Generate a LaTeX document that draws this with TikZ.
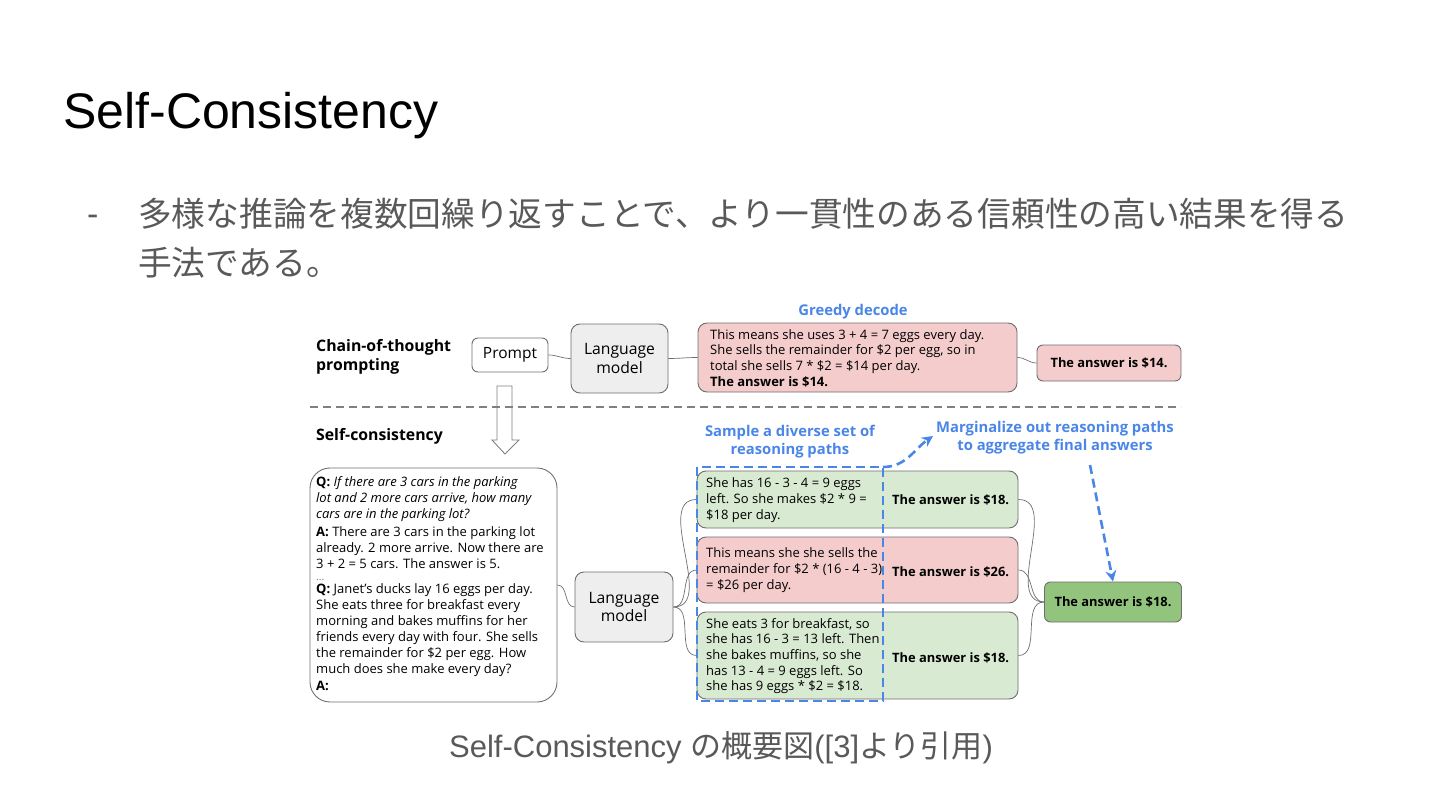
\documentclass[tikz,border=0pt]{standalone}
\usepackage{fontspec}
\usepackage{xcolor}
\setmainfont{Liberation Sans}
\newfontfamily\jpfont{Noto Sans CJK JP}
\newfontfamily\dgfont{Open Sans}
\usetikzlibrary{arrows.meta,positioning}

\definecolor{edgegray}{HTML}{6E6E6E}
\definecolor{lmgray}{HTML}{EEEEEE}
\definecolor{pathgreen}{HTML}{D9EAD3}
\definecolor{pathred}{HTML}{F4CCCC}
\definecolor{finalgreen}{HTML}{93C47D}
\definecolor{labelblue}{HTML}{4A86E8}
\definecolor{bodygray}{HTML}{595959}

\tikzset{
  box/.style={draw=edgegray, line width=0.9pt, rounded corners=6pt},
  lmbox/.style={box, fill=lmgray, align=center, rounded corners=9pt,
    font=\dgfont\fontsize{15.7}{18.5}\selectfont},
  ansbox/.style={box, font=\dgfont\bfseries\fontsize{12.9}{15}\selectfont},
  boxtext/.style={anchor=west, align=left, inner sep=0pt,
    font=\dgfont\fontsize{13}{15.7}\selectfont},
  anstext/.style={anchor=west, inner sep=0pt,
    font=\dgfont\bfseries\fontsize{12.9}{15}\selectfont},
  rowlabel/.style={anchor=west, align=left, inner sep=0pt,
    font=\dgfont\bfseries\fontsize{15.8}{19}\selectfont},
  bluelabel/.style={align=center, inner sep=0pt, text=labelblue,
    font=\dgfont\bfseries\fontsize{14.8}{18}\selectfont},
  link/.style={draw=edgegray, line width=0.7pt},
  bluedash/.style={draw=labelblue, line width=2.6pt, dash pattern=on 9pt off 5pt},
  bluearrow/.style={bluedash, -{Stealth[length=11pt,width=11pt]}}
}

\begin{document}
\begin{tikzpicture}[x=1pt,y=-1pt]
\useasboundingbox (0,0) rectangle (1440,810);

% slide text
\node[anchor=base west, inner sep=0pt, font=\fontsize{50}{60}\selectfont] (title) at (63,129) {Self-Consistency};
\node[anchor=base west, inner sep=0pt, text=bodygray, font=\fontsize{34}{40}\selectfont] (dash) at (87,226) {-};
\node[anchor=base west, inner sep=0pt, text=bodygray, font=\jpfont\fontsize{33.7}{48}\selectfont] (line1) at (138,227) {多様な推論を複数回繰り返すことで、より一貫性のある信頼性の高い結果を得る};
\node[anchor=base west, inner sep=0pt, text=bodygray, font=\jpfont\fontsize{33.7}{48}\selectfont] (line2) at (138,276) {手法である。};

% chain-of-thought row
\node[rowlabel] (cot) at (316,357) {Chain-of-thought\\prompting};
\node[box, minimum width=76, minimum height=34, font=\dgfont\fontsize{15.5}{18}\selectfont] (prompt) at (510,355) {Prompt};
\node[lmbox, minimum width=97, minimum height=69] (lm1) at (619.5,358.5) {Language\\model};
\node[box, fill=pathred, rounded corners=9pt, minimum width=319, minimum height=69] (greedy) at (857.5,357.5) {};
\node[boxtext] (greedytxt) at (710,358) {This means she uses 3 + 4 = 7 eggs every day.\\She sells the remainder for \$2 per egg, so in\\total she sells 7 * \$2 = \$14 per day.\\\textbf{The answer is \$14.}};
\node[ansbox, fill=pathred, minimum width=144, minimum height=36] (ans1) at (1109,363) {The answer is \$14.};
\node[bluelabel] (greedylbl) at (853,312) {Greedy decode};

\draw[link] (prompt.east) to[out=0,in=180] (lm1.west);
\draw[link] (lm1.east) to[out=0,in=180] (greedy.west);
\draw[link] (greedy.east) to[out=0,in=180] (ans1.west);

% separator and hollow arrow
\draw[draw=gray, line width=1.3pt, dash pattern=on 8pt off 5pt] (310,407) -- (1181,407);
\draw[draw=gray, line width=0.9pt] (497,386) -- (512,386) -- (512,440) -- (519,440) -- (505,454) -- (492,440) -- (497,440) -- cycle;

% self-consistency row
\node[rowlabel] (sc) at (316,436) {Self-consistency};
\node[box, rounded corners=20pt, minimum width=247, minimum height=234] (question) at (433.5,585) {};
\node[boxtext, anchor=north west, font=\dgfont\fontsize{13}{16}\selectfont] (qtxt) at (316,476) {\textbf{Q:} \textit{If there are 3 cars in the parking}\\\textit{lot and 2 more cars arrive, how many}\\\textit{cars are in the parking lot?}\\[2pt]
\textbf{A:} There are 3 cars in the parking lot\\already. 2 more arrive. Now there are\\3 + 2 = 5 cars. The answer is 5.\\[-4pt]
{\fontsize{10}{10}\selectfont\color{edgegray}...}\\[-3pt]
\textbf{Q:} Janet’s ducks lay 16 eggs per day.\\She eats three for breakfast every\\morning and bakes muffins for her\\friends every day with four. She sells\\the remainder for \$2 per egg. How\\much does she make every day?\\[1pt]
\textbf{A:}};
\node[lmbox, minimum width=98, minimum height=70] (lm2) at (624,607) {Language\\model};

\node[box, fill=pathgreen, rounded corners=9pt, minimum width=321, minimum height=57] (p1) at (857.5,499.5) {};
\node[box, fill=pathred, rounded corners=9pt, minimum width=321, minimum height=66] (p2) at (857.5,570) {};
\node[box, fill=pathgreen, rounded corners=9pt, minimum width=321, minimum height=87] (p3) at (857.5,655.5) {};
\node[boxtext] (p1txt) at (706,500) {She has 16 - 3 - 4 = 9 eggs\\left. So she makes \$2 * 9 =\\\$18 per day.};
\node[boxtext] (p2txt) at (706,570) {This means she she sells the\\remainder for \$2 * (16 - 4 - 3)\\= \$26 per day.};
\node[boxtext] (p3txt) at (706,656) {She eats 3 for breakfast, so\\she has 16 - 3 = 13 left. Then\\she bakes muffins, so she\\has 13 - 4 = 9 eggs left. So\\she has 9 eggs * \$2 = \$18.};
\node[anstext] (p1ans) at (892,500) {The answer is \$18.};
\node[anstext] (p2ans) at (892,572) {The answer is \$26.};
\node[anstext] (p3ans) at (892,658) {The answer is \$18.};
\node[ansbox, fill=finalgreen, minimum width=137, minimum height=40] (final) at (1113,602) {The answer is \$18.};

\draw[link] (question.east) to[out=0,in=180] (lm2.west);
\foreach \p in {p1,p2,p3}
  \draw[link] (lm2.east) to[out=0,in=180] (\p.west);
\foreach \p in {p1,p2,p3}
  \draw[link] (\p.east) to[out=0,in=180] (final.west);

% sampling and marginalizing
\node[bluelabel] (samplbl) at (790,442) {Sample a diverse set of\\reasoning paths};
\node[bluelabel] (marglbl) at (1055,438) {Marginalize out reasoning paths\\to aggregate final answers};
\draw[bluedash] (697,467) rectangle (883,701);
\coordinate (sampcorner) at (883,467);
\coordinate (margfoot) at (1090,465);
\draw[bluearrow] (sampcorner) to[out=0,in=-145] ([xshift=-3pt,yshift=2pt]marglbl.west);
\draw[bluearrow] (margfoot) -- (final.north);

% caption
\node[anchor=base, inner sep=0pt, text=bodygray, font=\fontsize{31}{36}\selectfont] (caption) at (721,757) {Self-Consistency {\jpfont の概要図}([3]{\jpfont より引用})};
\end{tikzpicture}
\end{document}
